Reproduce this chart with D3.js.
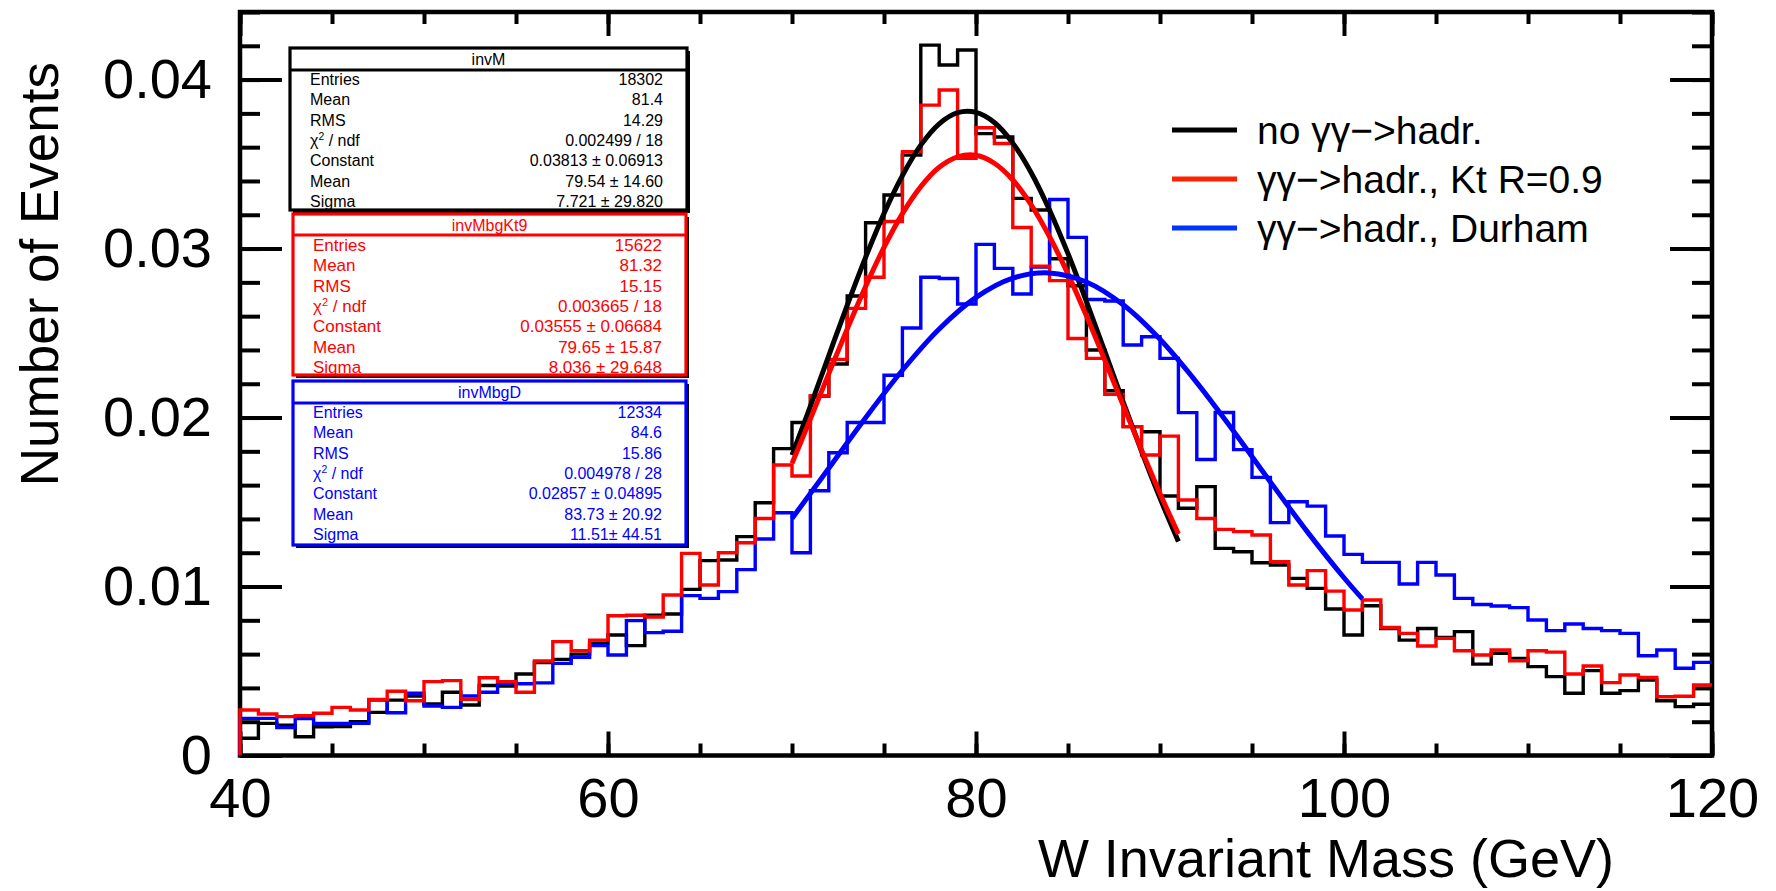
<!DOCTYPE html>
<html>
<head>
<meta charset="utf-8">
<script src="https://cdnjs.cloudflare.com/ajax/libs/d3/7.8.5/d3.min.js"></script>
<style>
body { margin: 0; background: #fff; }
svg { display: block; font-family: "Liberation Sans", Arial, Helvetica, sans-serif; }
</style>
</head>
<body>
<script>
// histogram range, 1 GeV bins
var binLow = 40, binHigh = 120;

var hBlack = [0.00102, 0.0019, 0.0018, 0.00111, 0.0017, 0.00172, 0.0020, 0.00255, 0.00328, 0.00352,
  0.00305, 0.00374, 0.00299, 0.00414, 0.00411, 0.00482, 0.0055, 0.00569, 0.0060, 0.00664,
  0.00713, 0.0065, 0.0083, 0.00837, 0.00983, 0.01153, 0.01157, 0.01295, 0.01496, 0.01816,
  0.01971, 0.02127, 0.02317, 0.02719, 0.03153, 0.03317, 0.03553, 0.04204, 0.04086, 0.04175,
  0.0368, 0.0366, 0.03297, 0.03228, 0.0294, 0.0278, 0.0240, 0.02159, 0.01946, 0.01916,
  0.01536, 0.01463, 0.01591, 0.01226, 0.01206, 0.01141, 0.01127, 0.01048, 0.00989, 0.00867,
  0.00713, 0.00886, 0.00752, 0.00683, 0.00752, 0.00699, 0.00733, 0.00541, 0.00605, 0.00575,
  0.00526, 0.00467, 0.00368, 0.00502, 0.00368, 0.00384, 0.00447, 0.00324, 0.00289, 0.00303];

var hRed = [0.00269, 0.00246, 0.0023, 0.00236, 0.0025, 0.00285, 0.00269, 0.00332, 0.0038, 0.00324,
  0.00437, 0.00443, 0.00332, 0.0046, 0.00437, 0.00374, 0.00559, 0.00674, 0.0062, 0.00683,
  0.00827, 0.0083, 0.0082, 0.0095, 0.01196, 0.01009, 0.012, 0.01259, 0.01403, 0.01719,
  0.01654, 0.0213, 0.02344, 0.02646, 0.0283, 0.0316, 0.03573, 0.03849, 0.03938, 0.03534,
  0.03715, 0.03622, 0.03125, 0.02896, 0.0281, 0.02468, 0.0235, 0.02137, 0.01946, 0.01778,
  0.0189, 0.01512, 0.01403, 0.01338, 0.01325, 0.01305, 0.01147, 0.01009, 0.01094, 0.00973,
  0.00861, 0.0092, 0.00758, 0.00723, 0.00648, 0.00693, 0.0062, 0.00595, 0.00624, 0.00561,
  0.0062, 0.00612, 0.00482, 0.0053, 0.00431, 0.00476, 0.00462, 0.00348, 0.00351, 0.00417];

var hBlue = [0.0022, 0.0022, 0.00165, 0.00218, 0.0019, 0.0019, 0.0019, 0.00328, 0.00253, 0.00368,
  0.00293, 0.00285, 0.00352, 0.00374, 0.00427, 0.00425, 0.0043, 0.00545, 0.00581, 0.0065,
  0.00595, 0.00798, 0.00727, 0.00735, 0.00946, 0.0093, 0.0097, 0.011, 0.01281, 0.01437,
  0.012, 0.01567, 0.01792, 0.01971, 0.01971, 0.0225, 0.0253, 0.0283, 0.02823, 0.02672,
  0.03025, 0.02883, 0.02731, 0.0289, 0.0329, 0.03066, 0.02699, 0.0269, 0.02429, 0.02478,
  0.0235, 0.02029, 0.01752, 0.0203, 0.0181, 0.01646, 0.01378, 0.01502, 0.01476, 0.01299,
  0.0119, 0.01143, 0.01143, 0.01015, 0.01143, 0.01068, 0.0093, 0.00894, 0.00885, 0.00875,
  0.00802, 0.00739, 0.00778, 0.00752, 0.00739, 0.00723, 0.0059, 0.00624, 0.00516, 0.00551];

// fitted gaussians, points
var fitBlackX = [70, 71, 72, 73, 74, 75, 76, 77, 78, 79, 80, 81, 82, 83, 84, 85, 86, 87, 88, 89, 90, 91];
var fitBlackY = [0.01777, 0.02068, 0.02367, 0.02664, 0.02948, 0.03208, 0.03432, 0.03612, 0.03738, 0.03804, 0.03806,
  0.03746, 0.03624, 0.03449, 0.03227, 0.0297, 0.02687, 0.02391, 0.02092, 0.018, 0.01523, 0.01267];
var fitRedX = [70, 71, 72, 73, 74, 75, 76, 77, 78, 79, 80, 81, 82, 83, 84, 85, 86, 87, 88, 89, 90, 91];
var fitRedY = [0.01729, 0.01992, 0.0226, 0.02524, 0.02776, 0.03007, 0.03207, 0.03367, 0.03481, 0.03543, 0.03552,
  0.03505, 0.03406, 0.03259, 0.0307, 0.02849, 0.02602, 0.0234, 0.02072, 0.01807, 0.01551, 0.01311];
var fitBlueX = [70, 72, 74, 76, 78, 80, 82, 84, 86, 88, 90, 92, 94, 96, 98, 100, 101];
var fitBlueY = [0.01402, 0.017, 0.01999, 0.0228, 0.02524, 0.02711, 0.02825, 0.02856, 0.02802, 0.02667, 0.02463,
  0.02207, 0.01919, 0.01619, 0.01325, 0.01052, 0.00927];

var xMajorTicks = [40, 60, 80, 100, 120];
var yMajorTicks = [0, 0.01, 0.02, 0.03, 0.04];

var legendLabels = ["no \u03b3\u03b3\u2212>hadr.", "\u03b3\u03b3\u2212>hadr., Kt R=0.9", "\u03b3\u03b3\u2212>hadr., Durham"];

var statTitles = ["invM", "invMbgKt9", "invMbgD"];
var statNames = ["Entries", "Mean", "RMS", "chi2", "Constant", "Mean", "Sigma"];
var statBlack = ["18302", "81.4", "14.29", "0.002499 / 18", "0.03813 \u00b1 0.06913", "79.54 \u00b1 14.60", "7.721 \u00b1 29.820"];
var statRed = ["15622", "81.32", "15.15", "0.003665 / 18", "0.03555 \u00b1 0.06684", "79.65 \u00b1 15.87", "8.036 \u00b1 29.648"];
var statBlue = ["12334", "84.6", "15.86", "0.004978 / 28", "0.02857 \u00b1 0.04895", "83.73 \u00b1 20.92", "11.51\u00b1 44.51"];

var width = 1776, height = 891,
  red = "#ff0000", blue = "#0000ff";

var svg = d3.select("body").append("svg")
  .attr("width", width)
  .attr("height", height);

var x = d3.scaleLinear().domain([binLow, binHigh]).range([240, 1712]);
var y = d3.scaleLinear().domain([0, 0.044]).range([755.5, 12]);

// frame
svg.append("rect")
  .attr("x", x(binLow)).attr("y", y(0.044))
  .attr("width", x(binHigh) - x(binLow)).attr("height", y(0) - y(0.044))
  .attr("fill", "none").attr("stroke", "#000").attr("stroke-width", 4.5);

function noDomain(g) {
  g.select(".domain").remove();
  g.selectAll("line").attr("stroke", "#000").attr("stroke-width", 4);
}

var xMinor = d3.range(binLow, binHigh + 1, 5);
var yMinor = d3.range(0, 23).map(function(i) { return i * 0.002; });

svg.append("g").attr("transform", "translate(0," + y(0) + ")")
  .call(d3.axisBottom(x).tickValues(xMinor).tickSize(-12).tickFormat("")).call(noDomain);
svg.append("g").attr("transform", "translate(0," + y(0) + ")")
  .call(d3.axisBottom(x).tickValues(xMajorTicks).tickSize(-24).tickPadding(22).tickFormat(d3.format("d")))
  .call(noDomain)
  .selectAll("text").attr("font-size", 56).attr("fill", "#000")
  .attr("font-family", "Liberation Sans, Arial, sans-serif");
svg.append("g").attr("transform", "translate(0," + y(0.044) + ")")
  .call(d3.axisTop(x).tickValues(xMinor).tickSize(-12).tickFormat("")).call(noDomain);
svg.append("g").attr("transform", "translate(0," + y(0.044) + ")")
  .call(d3.axisTop(x).tickValues(xMajorTicks).tickSize(-24).tickFormat("")).call(noDomain);

svg.append("g").attr("transform", "translate(" + x(binLow) + ",0)")
  .call(d3.axisLeft(y).tickValues(yMinor).tickSize(-20).tickFormat("")).call(noDomain);
svg.append("g").attr("transform", "translate(" + x(binLow) + ",0)")
  .call(d3.axisLeft(y).tickValues(yMajorTicks).tickSize(-42).tickPadding(28)
    .tickFormat(function(d) { return d === 0 ? "0" : d3.format(".2f")(d); }))
  .call(noDomain)
  .selectAll("text").attr("font-size", 56).attr("fill", "#000")
  .attr("font-family", "Liberation Sans, Arial, sans-serif");
svg.append("g").attr("transform", "translate(" + x(binHigh) + ",0)")
  .call(d3.axisRight(y).tickValues(yMinor).tickSize(-20).tickFormat("")).call(noDomain);
svg.append("g").attr("transform", "translate(" + x(binHigh) + ",0)")
  .call(d3.axisRight(y).tickValues(yMajorTicks).tickSize(-42).tickFormat("")).call(noDomain);

// histograms as step outlines
var stepLine = d3.line()
  .x(function(d) { return x(d[0]); })
  .y(function(d) { return y(d[1]); })
  .curve(d3.curveStepAfter);

function histPoints(vals) {
  var pts = [[binLow, 0]];
  vals.forEach(function(v, i) { pts.push([binLow + i, v]); });
  pts.push([binHigh, vals[vals.length - 1]]);
  return pts;
}

[[hBlack, "#000"], [hBlue, blue], [hRed, red]].forEach(function(h) {
  svg.append("path")
    .datum(histPoints(h[0]))
    .attr("d", stepLine)
    .attr("fill", "none")
    .attr("stroke", h[1])
    .attr("stroke-width", 3.4);
});

// fit curves
var fitLine = d3.line()
  .x(function(d) { return x(d[0]); })
  .y(function(d) { return y(d[1]); })
  .curve(d3.curveCatmullRom);

[[fitBlackX, fitBlackY, "#000"], [fitRedX, fitRedY, red], [fitBlueX, fitBlueY, blue]].forEach(function(f) {
  svg.append("path")
    .datum(d3.zip(f[0], f[1]))
    .attr("d", fitLine)
    .attr("fill", "none")
    .attr("stroke", f[2])
    .attr("stroke-width", 5);
});

// stat boxes
var statBoxes = [
  {x: 290, y: 48, w: 397, h: 162, t: 22, color: "#000", vals: statBlack, fs: 16},
  {x: 293, y: 214, w: 393, h: 161, t: 21, color: red, vals: statRed, fs: 17},
  {x: 293, y: 381, w: 393, h: 164, t: 22, color: blue, vals: statBlue, fs: 16}
];

statBoxes.forEach(function(b, k) {
  var g = svg.append("g");
  g.append("rect")
    .attr("x", b.x + 3).attr("y", b.y + 3).attr("width", b.w).attr("height", b.h)
    .attr("fill", "#000");
  g.append("rect")
    .attr("x", b.x).attr("y", b.y).attr("width", b.w).attr("height", b.h)
    .attr("fill", "#fff").attr("stroke", b.color).attr("stroke-width", 3.2);
  g.append("line")
    .attr("x1", b.x).attr("x2", b.x + b.w)
    .attr("y1", b.y + b.t).attr("y2", b.y + b.t)
    .attr("stroke", b.color).attr("stroke-width", 3.2);
  g.append("text")
    .attr("x", b.x + b.w / 2).attr("y", b.y + b.t / 2 + 6)
    .attr("text-anchor", "middle")
    .attr("font-size", 16).attr("fill", b.color)
    .text(statTitles[k]);
  statNames.forEach(function(name, i) {
    var cy = b.y + 31 + 20.3 * i + 6;
    var lab = g.append("text")
      .attr("x", b.x + 20).attr("y", cy)
      .attr("font-size", b.fs).attr("fill", b.color);
    if (name === "chi2") {
      lab.append("tspan").text("\u03c7");
      lab.append("tspan").attr("font-size", b.fs * 0.65).attr("dy", -6).text("2");
      lab.append("tspan").attr("dy", 6).text(" / ndf");
    } else {
      lab.text(name);
    }
    g.append("text")
      .attr("x", b.x + b.w - 24).attr("y", cy)
      .attr("text-anchor", "end")
      .attr("font-size", b.fs).attr("fill", b.color)
      .text(b.vals[i]);
  });
});

// legend
var legendColors = ["#000", "#ff2200", "#0033ff"];
var legend = svg.append("g").selectAll("g")
  .data(legendLabels)
  .enter().append("g")
  .attr("transform", function(d, i) { return "translate(1172," + (130 + 49 * i) + ")"; });
legend.append("line")
  .attr("x1", 0).attr("x2", 65)
  .attr("stroke", function(d, i) { return legendColors[i]; })
  .attr("stroke-width", 5);
legend.append("text")
  .attr("x", 85).attr("y", 14)
  .attr("font-size", 39).attr("fill", "#000")
  .text(function(d) { return d; });

// axis titles
svg.append("text")
  .attr("x", 1614).attr("y", 877)
  .attr("text-anchor", "end")
  .attr("font-size", 54)
  .text("W Invariant Mass (GeV)");
svg.append("text")
  .attr("transform", "translate(58,62) rotate(-90)")
  .attr("text-anchor", "end")
  .attr("font-size", 53)
  .text("Number of Events");
</script>
</body>
</html>
